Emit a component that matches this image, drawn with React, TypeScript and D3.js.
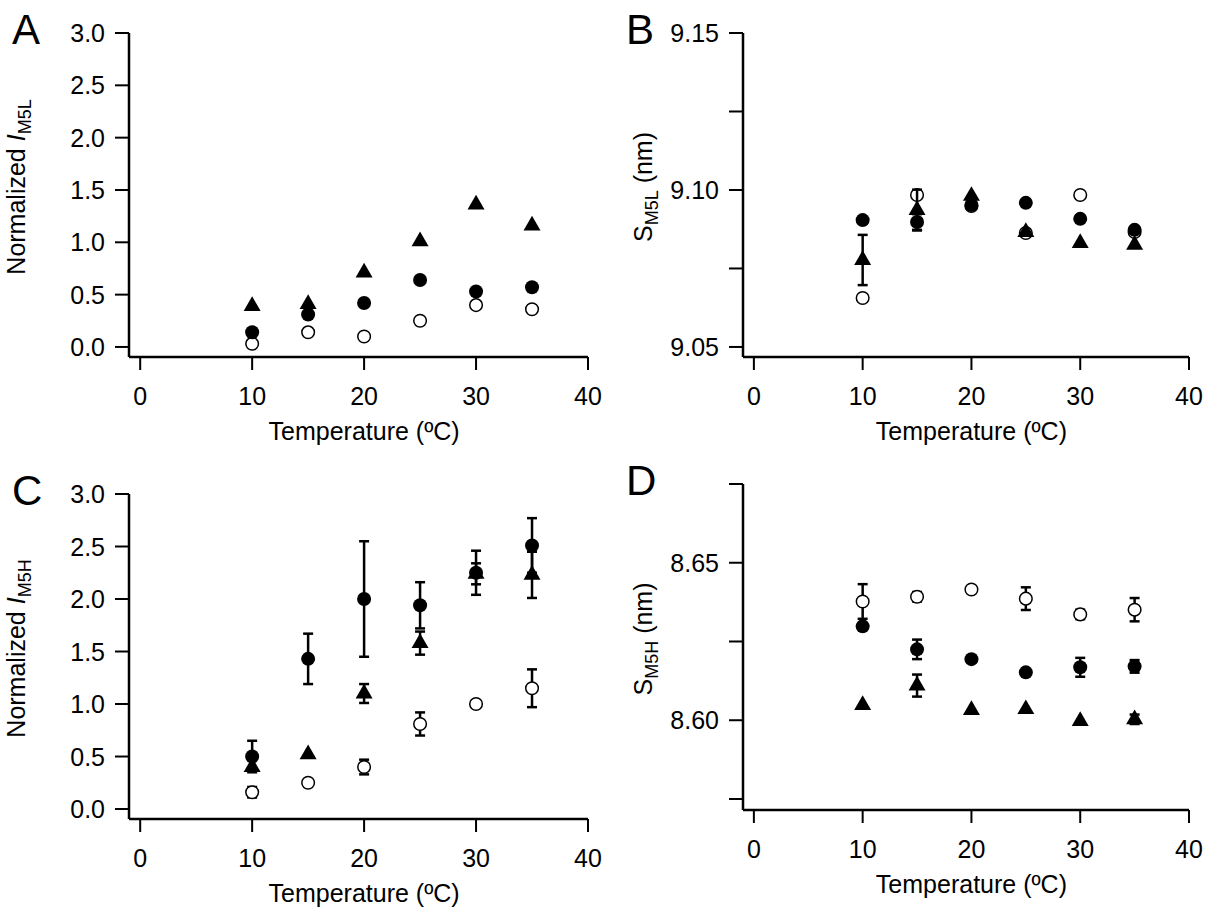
import * as d3 from 'd3';
import React from 'react';

const temps = [10, 15, 20, 25, 30, 35];

// Panel A: normalized I_M5L
const aFilled = [0.14, 0.31, 0.42, 0.64, 0.53, 0.57];
const aOpen = [0.03, 0.14, 0.1, 0.25, 0.4, 0.36];
const aTri = [0.39, 0.41, 0.71, 1.01, 1.36, 1.16];

// Panel B: S_M5L (nm)
const bFilled = [9.0904, 9.0898, 9.0952, 9.0959, 9.0908, 9.0873];
const bOpen = [9.0656, 9.0984, 9.0949, 9.0863, 9.0984, 9.0866];
const bTri = [9.0777, 9.0936, 9.0981, 9.0866, 9.0831, 9.0825];
const bTriErr = [0.008, 0.0065, 0, 0, 0, 0];
const bFilledErr = [0, 0.0025, 0, 0, 0, 0];

// Panel C: normalized I_M5H
const cFilled = [0.5, 1.43, 2.0, 1.94, 2.25, 2.51];
const cFilledErr = [0.15, 0.24, 0.55, 0.22, 0.21, 0.26];
const cOpen = [0.16, 0.25, 0.4, 0.81, 1.0, 1.15];
const cOpenErr = [0.05, 0, 0.07, 0.11, 0, 0.18];
const cTri = [0.4, 0.52, 1.1, 1.58, 2.24, 2.23];
const cTriErr = [0, 0, 0.09, 0.11, 0.1, 0.22];

// Panel D: S_M5H (nm)
const dFilled = [8.6298, 8.6225, 8.6194, 8.6152, 8.6168, 8.6171];
const dFilledErr = [0, 0.0031, 0.001, 0, 0.003, 0.002];
const dOpen = [8.6377, 8.6392, 8.6415, 8.6386, 8.6336, 8.6351];
const dOpenErr = [0.0055, 0.0015, 0, 0.0036, 0.0015, 0.0037];
const dTri = [8.6048, 8.611, 8.6032, 8.6035, 8.5997, 8.6003];
const dTriErr = [0, 0.0035, 0, 0, 0, 0.0015];

const xTicks = [0, 10, 20, 30, 40];
const font = 'Liberation Sans, Arial, sans-serif';

type Series = { kind: 'open' | 'filled' | 'tri'; vals: number[]; err?: number[] };

interface PanelProps {
  letter: string;
  left: number; right: number; top: number; bottom: number;
  yDomain: [number, number];
  yTicks: number[];
  yLabels: number[];
  fmt: (v: number) => string;
  titleX: number;
  yTitle: React.ReactNode;
  series: Series[];
}

const Panel: React.FC<PanelProps> = (p) => {
  const x = d3.scaleLinear().domain([-1, 40]).range([p.left, p.right]);
  const y = d3.scaleLinear().domain(p.yDomain).range([p.bottom, p.top]);
  const tri = d3.symbol(d3.symbolTriangle, 125)()!;
  const labelSet = new Set(p.yLabels.map((v) => v.toFixed(4)));
  const yTop = y(p.yTicks[p.yTicks.length - 1]);
  return (
    <g fontFamily={font} fill="#000">
      <text x={p.left - 117} y={yTop + 11} fontSize={42}>{p.letter}</text>
      <line x1={p.left} x2={p.left} y1={yTop} y2={p.bottom} stroke="#000" strokeWidth={2.5} />
      <line x1={p.left} x2={p.right} y1={p.bottom} y2={p.bottom} stroke="#000" strokeWidth={2.5} />
      {p.yTicks.map((t) => (
        <g key={t}>
          <line x1={p.left - 14} x2={p.left} y1={y(t)} y2={y(t)} stroke="#000" strokeWidth={2} />
          {labelSet.has(t.toFixed(4)) && (
            <text x={p.left - 24} y={y(t)} dy="0.36em" fontSize={25} textAnchor="end">{p.fmt(t)}</text>
          )}
        </g>
      ))}
      {xTicks.map((t) => (
        <g key={t}>
          <line x1={x(t)} x2={x(t)} y1={p.bottom} y2={p.bottom + 13} stroke="#000" strokeWidth={2} />
          <text x={x(t)} y={p.bottom + 48} fontSize={25} textAnchor="middle">{t}</text>
        </g>
      ))}
      <text x={x(20)} y={p.bottom + 83} fontSize={25} textAnchor="middle">Temperature (ºC)</text>
      <text transform={`translate(${p.left - p.titleX},${(yTop + p.bottom) / 2 - 8}) rotate(-90)`} fontSize={25} textAnchor="middle">{p.yTitle}</text>
      {p.series.map((s, si) => (
        <g key={si}>
          {s.err && s.vals.map((v, i) => s.err![i] > 0 && (
            <g key={i} stroke="#000" strokeWidth={2.5}>
              <line x1={x(temps[i])} x2={x(temps[i])} y1={y(v - s.err![i])} y2={y(v + s.err![i])} />
              <line x1={x(temps[i]) - 5} x2={x(temps[i]) + 5} y1={y(v - s.err![i])} y2={y(v - s.err![i])} />
              <line x1={x(temps[i]) - 5} x2={x(temps[i]) + 5} y1={y(v + s.err![i])} y2={y(v + s.err![i])} />
            </g>
          ))}
          {s.vals.map((v, i) => s.kind === 'tri' ? (
            <path key={i} d={tri} transform={`translate(${x(temps[i])},${y(v)})`} fill="#000" />
          ) : (
            <circle key={i} cx={x(temps[i])} cy={y(v)} r={s.kind === 'open' ? 6.3 : 7}
              fill={s.kind === 'open' ? '#fff' : '#000'} stroke="#000" strokeWidth={s.kind === 'open' ? 1.5 : 0} />
          ))}
        </g>
      ))}
    </g>
  );
};

const title = (sym: string, sub: string, suffix: string, italic: boolean) => (
  <>
    {suffix === '' ? 'Normalized ' : ''}
    <tspan fontStyle={italic ? 'italic' : 'normal'}>{sym}</tspan>
    <tspan fontSize={18} dy={6}>{sub}</tspan>
    {suffix && <tspan dy={-6}>{suffix}</tspan>}
  </>
);

const App: React.FC = () => {
  const aTicks = [0, 0.5, 1, 1.5, 2, 2.5, 3];
  const bTicks = [9.05, 9.075, 9.1, 9.125, 9.15];
  const dTicks = [8.575, 8.6, 8.625, 8.65, 8.675];
  return (
    <svg width={1208} height={909} style={{ position: 'absolute', left: 0, top: 0, background: '#fff' }}>
      <Panel letter="A" left={129} right={588} top={33} bottom={357} yDomain={[-0.096, 3]}
        yTicks={aTicks} yLabels={aTicks} fmt={(v) => v.toFixed(1)} titleX={104} yTitle={title('I', 'M5L', '', true)}
        series={[{ kind: 'open', vals: aOpen }, { kind: 'filled', vals: aFilled }, { kind: 'tri', vals: aTri }]} />
      <Panel letter="B" left={743} right={1189} top={33} bottom={357} yDomain={[9.0468, 9.15]}
        yTicks={bTicks} yLabels={[9.05, 9.1, 9.15]} fmt={(v) => v.toFixed(2)} titleX={91} yTitle={title('S', 'M5L', ' (nm)', false)}
        series={[{ kind: 'open', vals: bOpen }, { kind: 'filled', vals: bFilled, err: bFilledErr }, { kind: 'tri', vals: bTri, err: bTriErr }]} />
      <Panel letter="C" left={129} right={588} top={494} bottom={819} yDomain={[-0.095, 3]}
        yTicks={aTicks} yLabels={aTicks} fmt={(v) => v.toFixed(1)} titleX={104} yTitle={title('I', 'M5H', '', true)}
        series={[{ kind: 'open', vals: cOpen, err: cOpenErr }, { kind: 'filled', vals: cFilled, err: cFilledErr }, { kind: 'tri', vals: cTri, err: cTriErr }]} />
      <Panel letter="D" left={743} right={1189} top={484} bottom={810} yDomain={[8.5715, 8.675]}
        yTicks={dTicks} yLabels={[8.6, 8.65]} fmt={(v) => v.toFixed(2)} titleX={91} yTitle={title('S', 'M5H', ' (nm)', false)}
        series={[{ kind: 'open', vals: dOpen, err: dOpenErr }, { kind: 'filled', vals: dFilled, err: dFilledErr }, { kind: 'tri', vals: dTri, err: dTriErr }]} />
    </svg>
  );
};

export default App;
